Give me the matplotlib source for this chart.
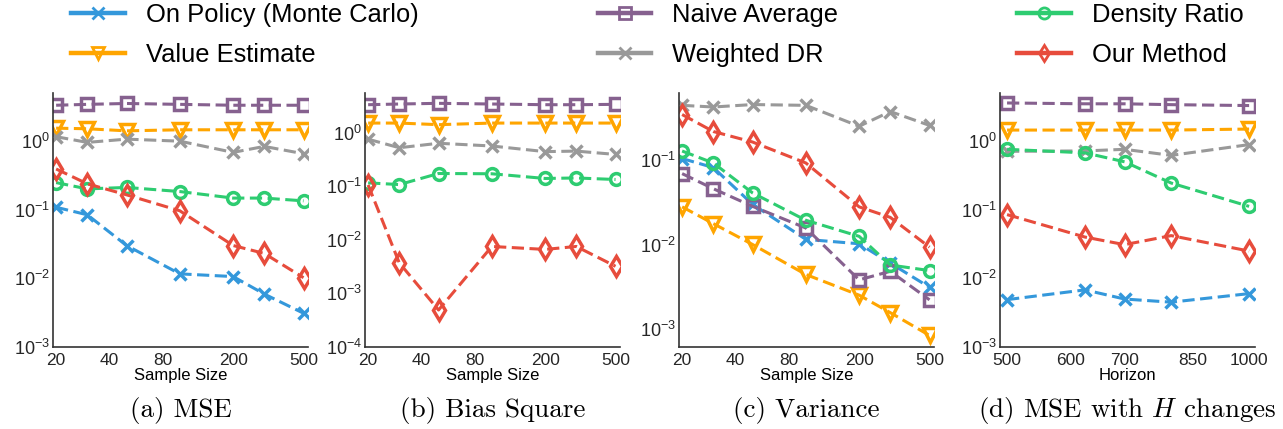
import numpy as np
import matplotlib
matplotlib.use("Agg")
import matplotlib.pyplot as plt
from matplotlib.lines import Line2D
from matplotlib.ticker import FixedLocator, NullLocator, FixedFormatter, LogLocator

plt.rcParams['font.family'] = ['Liberation Sans', 'DejaVu Sans']

# x values
sizes = [20, 30, 50, 100, 200, 300, 500]
horizons = [500, 625, 700, 800, 1000]
size_ticks = [20, 40, 80, 200, 500]
horizon_ticks = [500, 600, 700, 850, 1000]

# (a) MSE
mse_on_policy = [0.108, 0.084, 0.030, 0.0116, 0.0106, 0.0059, 0.0031]
mse_value = [1.53, 1.50, 1.40, 1.45, 1.45, 1.45, 1.45]
mse_naive = [3.3, 3.4, 3.5, 3.4, 3.3, 3.3, 3.3]
mse_wdr = [1.15, 0.95, 1.06, 0.99, 0.68, 0.83, 0.65]
mse_dr = [0.247, 0.20, 0.21, 0.183, 0.147, 0.147, 0.134]
mse_ours = [0.39, 0.237, 0.164, 0.096, 0.030, 0.023, 0.0102]

# (b) bias square (no on-policy curve)
bias_value = [1.5, 1.5, 1.4, 1.5, 1.5, 1.5, 1.5]
bias_naive = [3.3, 3.4, 3.5, 3.4, 3.3, 3.3, 3.35]
bias_wdr = [0.75, 0.52, 0.63, 0.56, 0.44, 0.45, 0.39]
bias_dr = [0.115, 0.107, 0.172, 0.17, 0.139, 0.142, 0.133]
bias_ours = [0.105, 0.0037, 0.00049, 0.0075, 0.0066, 0.0075, 0.0032]

# (c) variance
var_on_policy = [0.105, 0.082, 0.030, 0.0115, 0.0102, 0.006, 0.0031]
var_value = [0.028, 0.0177, 0.010, 0.0044, 0.0025, 0.00155, 0.00083]
var_naive = [0.0695, 0.046, 0.0284, 0.0157, 0.0038, 0.0048, 0.0022]
var_wdr = [0.45, 0.43, 0.46, 0.45, 0.254, 0.38, 0.26]
var_dr = [0.129, 0.093, 0.041, 0.0194, 0.0125, 0.0057, 0.0049]
var_ours = [0.35, 0.22, 0.165, 0.093, 0.028, 0.021, 0.0093]

# (d) MSE vs horizon
h_on_policy = [0.0049, 0.0068, 0.005, 0.0045, 0.006]
h_value = [1.45, 1.45, 1.45, 1.45, 1.5]
h_naive = [3.6, 3.5, 3.5, 3.4, 3.3]
h_wdr = [0.71, 0.72, 0.76, 0.62, 0.89]
h_dr = [0.76, 0.675, 0.50, 0.245, 0.112]
h_ours = [0.085, 0.04, 0.031, 0.042, 0.025]

names = ['On Policy (Monte Carlo)', 'Value Estimate', 'Naive Average',
         'Weighted DR', 'Density Ratio', 'Our Method']
colors = ['#3498db', '#ffa500', '#86618f', '#999999', '#2ecc71', '#e74c3c']
markers = ['x', 'v', 's', 'x', 'o', 'd']
msizes = [8.5, 9.5, 8.5, 8.5, 8.5, 10.5]

panels = [
    (sizes, [mse_on_policy, mse_value, mse_naive, mse_wdr, mse_dr, mse_ours], 1e-3),
    (sizes, [None, bias_value, bias_naive, bias_wdr, bias_dr, bias_ours], 1e-4),
    (sizes, [var_on_policy, var_value, var_naive, var_wdr, var_dr, var_ours], None),
    (horizons, [h_on_policy, h_value, h_naive, h_wdr, h_dr, h_ours], 1e-3),
]
captions = ['(a) MSE', '(b) Bias Square', '(c) Variance', '(d) MSE with $H$ changes']
lefts = [53, 365, 679, 1000]

W, H = 1283, 429
fig = plt.figure(figsize=(W / 100, H / 100), dpi=100)

for k, (xs, series, ybot) in enumerate(panels):
    ax = fig.add_axes([lefts[k] / W, 1 - 347 / H, 255 / W, 254 / H])
    for i, ys in enumerate(series):
        if ys is None:
            continue
        ax.plot(xs, ys, linestyle='--', color=colors[i], lw=2.2,
                marker=markers[i], ms=msizes[i], mfc='none', mew=2.5,
                dashes=(4, 1.8))
    ax.set_xscale('log')
    ax.set_yscale('log')
    if ybot is not None:
        ax.set_ylim(bottom=ybot)
    ax.yaxis.set_major_locator(LogLocator(base=10, numticks=10))
    ax.yaxis.set_minor_locator(NullLocator())
    if k < 3:
        ticks = size_ticks
        ax.set_xlim(19.2, 530)
        ax.set_xlabel('Sample Size', fontsize=12, labelpad=0)
    else:
        ticks = horizon_ticks
        ax.set_xlim(490, 1017)
        ax.set_xlabel('Horizon', fontsize=12, labelpad=0)
    ax.xaxis.set_major_locator(FixedLocator(ticks))
    ax.xaxis.set_major_formatter(FixedFormatter([str(t) for t in ticks]))
    ax.xaxis.set_minor_locator(NullLocator())
    ax.tick_params(axis='both', which='both', length=0, colors='0.15')
    ax.tick_params(axis='x', labelsize=12.5, pad=4)
    ax.tick_params(axis='y', labelsize=13, pad=2)
    for s in ['top', 'right']:
        ax.spines[s].set_visible(False)
    for s in ['left', 'bottom']:
        ax.spines[s].set_color('0.2')
        ax.spines[s].set_linewidth(1.2)
    fig.text((lefts[k] + 127.5) / W, 1 - 411 / H, captions[k],
             family='cmr10', math_fontfamily='cm', fontsize=19.5,
             ha='center', va='center')

handles = [Line2D([], [], color=colors[i], lw=3.2, marker=markers[i],
                  ms=8, mfc='none', mew=2) for i in range(6)]
fig.legend(handles, names, ncol=3, loc='center',
           bbox_to_anchor=(657.5 / W, 1 - 35 / H), frameon=False,
           fontsize=18.4, handlelength=2.1, handletextpad=0.82,
           columnspacing=7.0, labelspacing=0.6)

fig.savefig('out.png', dpi=100)
